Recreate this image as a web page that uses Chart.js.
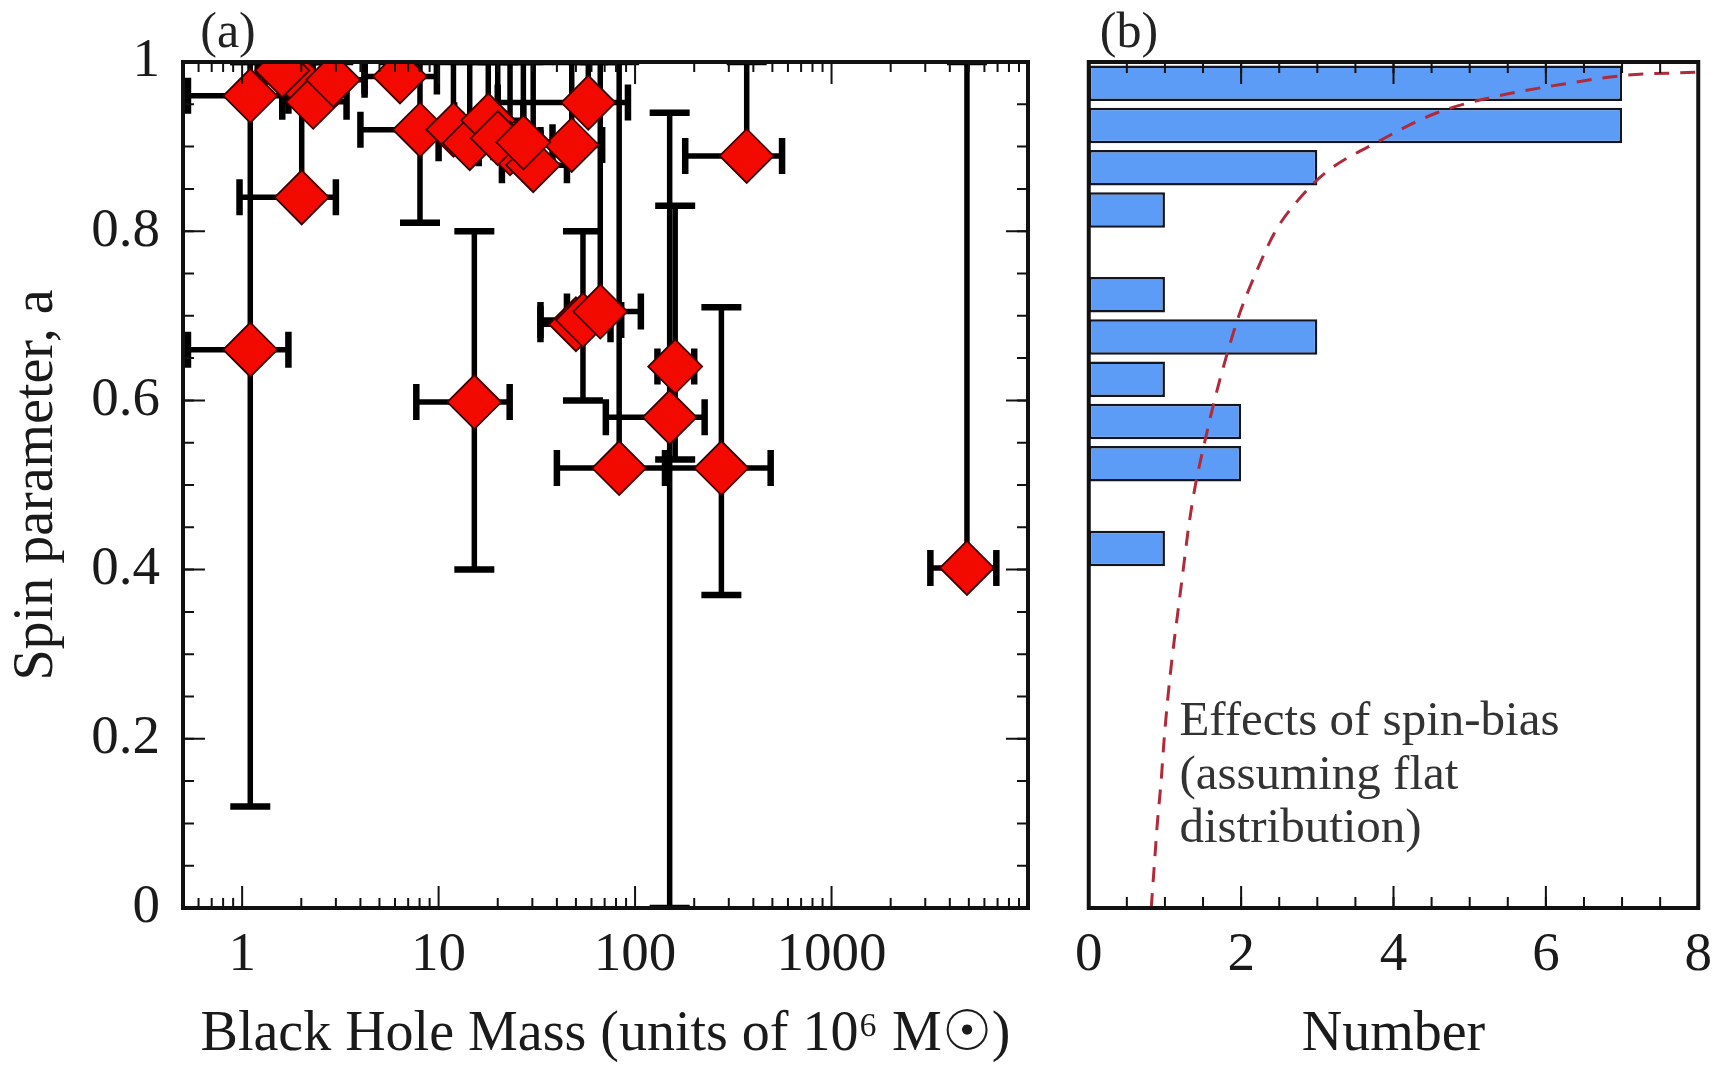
<!DOCTYPE html>
<html><head><meta charset="utf-8">
<script src="https://cdn.jsdelivr.net/npm/chart.js@4.4.0/dist/chart.umd.min.js"></script>
<style>
html,body{margin:0;padding:0;background:#fff;width:1727px;height:1066px;overflow:hidden}
#wa{position:absolute;left:0;top:0;width:1060px;height:1066px}
#wb{position:absolute;left:1060px;top:0;width:667px;height:1066px}
</style></head><body>
<div id="wa"><canvas id="ca"></canvas></div>
<div id="wb"><canvas id="cb"></canvas></div>
<script>
// ---- Panel (a): black hole mass vs spin ----
const massValues = [1.10, 1.10, 2.01, 1.86, 2.30, 2.91, 6.36, 8.04, 11.9, 14.4, 17.9, 23.1, 30.3, 47.6, 57.8, 370, 15.2, 50, 54.3, 66.5, 83, 150, 160, 275, 4890, 1.6, 20, 27];
const massLow    = [0.53, 0.53, 0.97, 1.3, 1.6, 2.0, 4.2, 4.0, 8.5, 10, 12, 16, 21, 33, 20, 180, 7.7, 33, 33, 45, 40, 71, 130, 142, 3185, 1.2, 14, 19];
const massHigh   = [1.72, 1.72, 3.0, 2.6, 3.4, 4.2, 9.8, 13, 17, 20, 27, 33, 45, 68, 92, 560, 23, 75, 85, 107, 144, 226, 200, 490, 6900, 2.2, 28, 38];
const spinValues = [0.96, 0.66, 0.84, 0.983, 0.953, 0.979, 0.983, 0.92, 0.92, 0.904, 0.931, 0.898, 0.878, 0.902, 0.952, 0.889, 0.598, 0.69, 0.695, 0.705, 0.52, 0.58, 0.64, 0.52, 0.402, 0.99, 0.91, 0.905];
const spinLow    = [0.96, 0.12, 0.84, 0.983, 0.953, 0.979, 0.983, 0.81, 0.92, 0.904, 0.931, 0.898, 0.878, 0.902, 0.952, 0.889, 0.40, 0.69, 0.60, 0.705, 0.52, 0.0, 0.53, 0.37, 0.402, 0.99, 0.91, 0.905];
const spinHigh   = [1.0, 1.0, 1.0, 1.0, 1.0, 1.0, 1.0, 1.0, 1.0, 1.0, 1.0, 1.0, 1.0, 1.0, 1.0, 1.0, 0.80, 0.69, 0.80, 1.0, 1.0, 0.94, 0.83, 0.71, 1.0, 1.0, 1.0, 1.0];

// ---- Panel (b): histogram of spins ----
const binCenters = [0.975, 0.925, 0.875, 0.825, 0.725, 0.675, 0.625, 0.575, 0.525, 0.425];
const binCounts  = [7, 7, 3, 1, 1, 3, 1, 2, 2, 1];
// spin-bias curve (Number, spin)
const biasNumber = [0.82, 0.86, 0.90, 0.95, 0.99, 1.04, 1.10, 1.17, 1.24, 1.31, 1.40, 1.52, 1.65, 1.80, 1.97, 2.19, 2.45, 2.76, 3.12, 3.78, 4.57, 5.38, 6.17, 7.02, 8.0];
const biasSpin   = [0.0, 0.05, 0.10, 0.15, 0.20, 0.25, 0.30, 0.35, 0.40, 0.45, 0.50, 0.55, 0.60, 0.65, 0.70, 0.75, 0.80, 0.838, 0.87, 0.905, 0.94, 0.96, 0.973, 0.984, 0.988];

// ---- tick labels ----
const spinTicks  = [0, 0.2, 0.4, 0.6, 0.8, 1];
const massTicks  = [1, 10, 100, 1000];
const countTicks = [0, 2, 4, 6, 8];
const annotationLines = ['Effects of spin-bias', '(assuming flat', 'distribution)'];

const SERIF = "'Liberation Serif','Times New Roman',serif";
Chart.defaults.font.family = SERIF;
Chart.defaults.color = '#1a1a1a';

function frameTicks(id, xSets, ySets, label, labelX, labelY) {
  return {
    id,
    afterDatasetsDraw(chart) {
      const {ctx, chartArea: a, scales} = chart;
      ctx.save();
      ctx.strokeStyle = '#111';
      ctx.lineWidth = 2;
      for (const s of xSets) {
        for (const v of s.values) {
          const px = scales.x.getPixelForValue(v);
          if (px < a.left - 0.5 || px > a.right + 0.5) continue;
          ctx.beginPath();
          ctx.moveTo(px, a.bottom); ctx.lineTo(px, a.bottom - s.len);
          ctx.moveTo(px, a.top); ctx.lineTo(px, a.top + s.len);
          ctx.stroke();
        }
      }
      for (const s of ySets) {
        for (const v of s.values) {
          const py = scales.y.getPixelForValue(v);
          ctx.beginPath();
          ctx.moveTo(a.left, py); ctx.lineTo(a.left + s.len, py);
          ctx.moveTo(a.right, py); ctx.lineTo(a.right - s.len, py);
          ctx.stroke();
        }
      }
      ctx.lineWidth = 4;
      ctx.strokeRect(a.left, a.top, a.right - a.left, a.bottom - a.top);
      ctx.fillStyle = '#222';
      ctx.font = '50px ' + SERIF;
      ctx.textAlign = 'center';
      ctx.textBaseline = 'middle';
      ctx.fillText(label, labelX, labelY);
      ctx.restore();
    }
  };
}

// minor tick positions (axis structure)
const logMinor = [];
for (let d = 0.1; d <= 1000; d *= 10) for (let k = 2; k <= 9; k++) logMinor.push(+(k * d).toPrecision(3));
const spinMinor = []; for (let i = 0; i <= 20; i++) spinMinor.push(i * 0.05);
const countMinor = []; for (let i = 0; i <= 16; i++) countMinor.push(i * 0.5);

const errorBars = {
  id: 'errorBars',
  beforeDatasetsDraw(chart) {
    const {ctx, chartArea: a, scales: {x, y}} = chart;
    ctx.save();
    ctx.beginPath(); ctx.rect(a.left, a.top, a.right - a.left, a.bottom - a.top); ctx.clip();
    ctx.strokeStyle = '#000';
    for (let i = 0; i < massValues.length; i++) {
      const px = x.getPixelForValue(massValues[i]);
      const py = y.getPixelForValue(spinValues[i]);
      const xl = x.getPixelForValue(massLow[i]), xh = x.getPixelForValue(massHigh[i]);
      const yl = y.getPixelForValue(spinLow[i]), yh = y.getPixelForValue(spinHigh[i]);
      ctx.lineWidth = 5.5;
      ctx.beginPath(); ctx.moveTo(xl, py); ctx.lineTo(xh, py); ctx.stroke();
      if (Math.abs(yl - yh) > 1) { ctx.beginPath(); ctx.moveTo(px, yl); ctx.lineTo(px, yh); ctx.stroke(); }
      ctx.lineWidth = 6.5;
      ctx.beginPath();
      ctx.moveTo(xl, py - 18); ctx.lineTo(xl, py + 18);
      ctx.moveTo(xh, py - 18); ctx.lineTo(xh, py + 18);
      if (Math.abs(yl - yh) > 1) {
        ctx.moveTo(px - 20, yl); ctx.lineTo(px + 20, yl);
        ctx.moveTo(px - 20, yh); ctx.lineTo(px + 20, yh);
      }
      ctx.stroke();
    }
    ctx.restore();
  }
};

const tickFont = {family: SERIF, size: 55};
const titleFont = {family: SERIF, size: 56, lineHeight: 1.1};

new Chart(document.getElementById('ca'), {
  type: 'scatter',
  data: {
    datasets: [{
      label: 'Spin',
      data: massValues.map((m, i) => ({x: m, y: spinValues[i]})),
      pointStyle: 'rectRot',
      pointRadius: 27,
      pointHoverRadius: 27,
      backgroundColor: '#f20a00',
      borderColor: '#3a0000',
      borderWidth: 1.8
    }]
  },
  options: {
    animation: false, responsive: true, maintainAspectRatio: false, devicePixelRatio: 1,
    layout: {padding: {top: 62, right: 32, left: 0, bottom: 0}},
    plugins: {legend: {display: false}, tooltip: {enabled: false}},
    scales: {
      x: {
        type: 'logarithmic', min: 0.5, max: 10000,
        afterBuildTicks: s => { s.ticks = massTicks.map(v => ({value: v})); },
        afterFit: s => { s.height = 158; },
        grid: {display: false, drawTicks: false}, border: {display: false},
        ticks: {font: tickFont, padding: 15, maxRotation: 0, autoSkip: false, callback: v => String(v)},
        title: {display: true, text: 'Black Hole Mass (units of 10\u2076 M\u2609)', font: titleFont, padding: {top: 0, bottom: 0}}
      },
      y: {
        type: 'linear', min: 0, max: 1,
        afterBuildTicks: s => { s.ticks = spinTicks.map(v => ({value: v})); },
        afterFit: s => { s.width = 183; },
        grid: {display: false, drawTicks: false}, border: {display: false},
        ticks: {font: tickFont, padding: 23, callback: v => (v === 0 || v === 1) ? String(v) : v.toFixed(1)},
        title: {display: true, text: 'Spin parameter, a', font: titleFont, padding: {top: 6, bottom: 0}}
      }
    }
  },
  plugins: [errorBars, frameTicks('frameA',
    [{values: massTicks, len: 22}, {values: logMinor, len: 10}],
    [{values: spinTicks, len: 22}, {values: spinMinor, len: 11}],
    '(a)', 228, 34)]
});

const annotation = {
  id: 'annotation',
  afterDatasetsDraw(chart) {
    const {ctx, scales: {x, y}} = chart;
    ctx.save();
    ctx.fillStyle = '#333';
    ctx.font = '49px ' + SERIF;
    ctx.textAlign = 'left';
    ctx.textBaseline = 'alphabetic';
    const x0 = x.getPixelForValue(1.19);
    const base = [0.205, 0.141, 0.078];
    annotationLines.forEach((t, i) => ctx.fillText(t, x0, y.getPixelForValue(base[i])));
    ctx.restore();
  }
};

new Chart(document.getElementById('cb'), {
  type: 'bar',
  data: {
    datasets: [
      {
        type: 'bar', label: 'Number',
        data: binCenters.map((c, i) => ({x: binCounts[i], y: c})),
        backgroundColor: '#5c9bf6', borderColor: '#15151f', borderWidth: 2.5, borderSkipped: false,
        barPercentage: 0.84, categoryPercentage: 1, order: 2
      },
      {
        type: 'scatter', label: 'Spin bias', indexAxis: 'x',
        data: biasNumber.map((n, i) => ({x: n, y: biasSpin[i]})),
        showLine: true, borderColor: '#b02a3a', borderWidth: 3, borderDash: [15, 11],
        cubicInterpolationMode: 'monotone',
        pointRadius: 0, fill: false, order: 1
      }
    ]
  },
  options: {
    indexAxis: 'y',
    animation: false, responsive: true, maintainAspectRatio: false, devicePixelRatio: 1,
    layout: {padding: {top: 62, right: 27, left: 26, bottom: 0}},
    plugins: {legend: {display: false}, tooltip: {enabled: false}},
    scales: {
      x: {
        type: 'linear', min: 0, max: 8, offset: false,
        afterBuildTicks: s => { s.ticks = countTicks.map(v => ({value: v})); },
        afterFit: s => { s.height = 158; },
        grid: {display: false, drawTicks: false}, border: {display: false},
        ticks: {font: tickFont, padding: 15, maxRotation: 0, autoSkip: false},
        title: {display: true, text: 'Number', font: titleFont, padding: {top: 0, bottom: 0}}
      },
      y: {type: 'linear', min: 0, max: 1, offset: false, display: false}
    }
  },
  plugins: [annotation, frameTicks('frameB',
    [{values: countTicks, len: 22}, {values: countMinor, len: 11}],
    [], '(b)', 69, 34)]
});
</script>
</body></html>
